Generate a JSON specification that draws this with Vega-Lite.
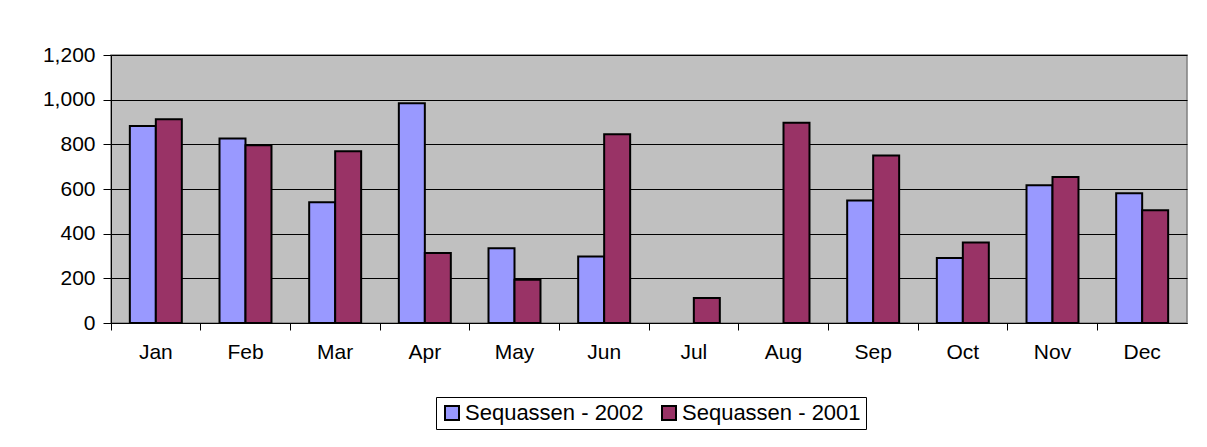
{
  "$schema": "https://vega.github.io/schema/vega-lite/v6.json",
  "width": 1076,
  "height": 268,
  "autosize": {"type": "none"},
  "padding": {"left": 111, "top": 55, "right": 20, "bottom": 124},
  "background": "white",
  "config": {
    "font": "Liberation Sans",
    "view": {"fill": "#C0C0C0", "stroke": "#808080", "strokeWidth": 1.5}
  },
  "data": {
    "values": [
      {"month": "Jan", "series": "Sequassen - 2002", "value": 882},
      {"month": "Jan", "series": "Sequassen - 2001", "value": 912},
      {"month": "Feb", "series": "Sequassen - 2002", "value": 826},
      {"month": "Feb", "series": "Sequassen - 2001", "value": 796},
      {"month": "Mar", "series": "Sequassen - 2002", "value": 541},
      {"month": "Mar", "series": "Sequassen - 2001", "value": 769},
      {"month": "Apr", "series": "Sequassen - 2002", "value": 984},
      {"month": "Apr", "series": "Sequassen - 2001", "value": 313},
      {"month": "May", "series": "Sequassen - 2002", "value": 335},
      {"month": "May", "series": "Sequassen - 2001", "value": 194},
      {"month": "Jun", "series": "Sequassen - 2002", "value": 298},
      {"month": "Jun", "series": "Sequassen - 2001", "value": 845},
      {"month": "Jul", "series": "Sequassen - 2001", "value": 112},
      {"month": "Aug", "series": "Sequassen - 2001", "value": 897},
      {"month": "Sep", "series": "Sequassen - 2002", "value": 548},
      {"month": "Sep", "series": "Sequassen - 2001", "value": 750},
      {"month": "Oct", "series": "Sequassen - 2002", "value": 291},
      {"month": "Oct", "series": "Sequassen - 2001", "value": 361},
      {"month": "Nov", "series": "Sequassen - 2002", "value": 617},
      {"month": "Nov", "series": "Sequassen - 2001", "value": 654},
      {"month": "Dec", "series": "Sequassen - 2002", "value": 581},
      {"month": "Dec", "series": "Sequassen - 2001", "value": 505}
    ]
  },
  "mark": {"type": "bar", "stroke": "black", "strokeWidth": 2},
  "encoding": {
    "x": {
      "field": "month",
      "type": "nominal",
      "sort": ["Jan","Feb","Mar","Apr","May","Jun","Jul","Aug","Sep","Oct","Nov","Dec"],
      "scale": {"paddingInner": 0, "paddingOuter": 0},
      "axis": {
        "title": null,
        "labelAngle": 0,
        "labelFontSize": 21,
        "labelColor": "black",
        "labelPadding": 11,
        "bandPosition": 0,
        "tickSize": 7,
        "tickColor": "black",
        "domainColor": "black",
        "domainWidth": 1,
        "grid": false
      }
    },
    "xOffset": {
      "field": "series",
      "type": "nominal",
      "sort": ["Sequassen - 2002", "Sequassen - 2001"],
      "scale": {"paddingInner": 0, "paddingOuter": 0.725}
    },
    "y": {
      "field": "value",
      "type": "quantitative",
      "scale": {"domain": [0, 1200], "nice": false},
      "axis": {
        "title": null,
        "values": [0, 200, 400, 600, 800, 1000, 1200],
        "format": ",d",
        "labelFontSize": 21,
        "labelColor": "black",
        "labelPadding": 8,
        "tickSize": 8,
        "tickColor": "black",
        "domainColor": "black",
        "grid": true,
        "gridColor": "black",
        "gridWidth": 1,
        "gridOpacity": 1
      }
    },
    "color": {
      "field": "series",
      "type": "nominal",
      "scale": {
        "domain": ["Sequassen - 2002", "Sequassen - 2001"],
        "range": ["#9999FF", "#993366"]
      },
      "legend": {
        "title": null,
        "orient": "none",
        "legendX": 325,
        "legendY": 342,
        "direction": "horizontal",
        "labelFontSize": 22,
        "labelColor": "black",
        "labelLimit": 0,
        "symbolType": "square",
        "symbolSize": 196,
        "symbolStrokeColor": "black",
        "symbolStrokeWidth": 2,
        "symbolOpacity": 1,
        "labelOffset": 2,
        "columnPadding": 14,
        "strokeColor": "black",
        "fillColor": "white",
        "padding": 5
      }
    }
  }
}
